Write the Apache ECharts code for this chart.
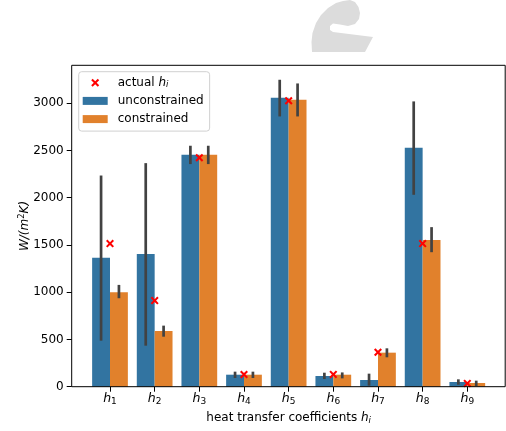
<!DOCTYPE html>
<html><head><meta charset="utf-8">
<script src="https://cdn.jsdelivr.net/npm/echarts@6/dist/echarts.min.js"></script>
<style>html,body{margin:0;padding:0;background:#fff}#c{width:506px;height:431px}</style>
</head><body><div id="c"></div>
<script>
var categories = ['1','2','3','4','5','6','7','8','9'];
var unconstrained = [1363, 1405, 2453, 127, 3057, 113, 71, 2527, 50];
var constrained   = [1000, 590, 2453, 127, 3036, 127, 360, 1553, 39];
var uncLow  = [487, 434, 2355, 92, 2859, 81, 11, 2030, 21];
var uncHigh = [2234, 2365, 2549, 159, 3247, 148, 138, 3018, 78];
var conLow  = [936, 529, 2355, 92, 2859, 88, 311, 1423, 7];
var conHigh = [1077, 646, 2549, 159, 3208, 151, 406, 1688, 64];
var actual  = [1514, 911, 2422, 129, 3025, 130, 364, 1514, 35];
var yTicks = [0, 500, 1000, 1500, 2000, 2500, 3000];

var FONT = 'DejaVu Sans';
var BLUE = '#3274a1', ORANGE = '#e1812c', ERR = '#424242';
var XPATH = 'path://M0,1.8L1.8,0L5,3.2L8.2,0L10,1.8L6.8,5L10,8.2L8.2,10L5,6.8L1.8,10L0,8.2L3.2,5Z';

var chart = echarts.init(document.getElementById('c'), null, {renderer: 'canvas'});

function errSeries(name, low, high, side) {
  return {
    type: 'custom', name: name, xAxisIndex: 1, yAxisIndex: 1, z: 5, silent: true,
    data: low.map(function (v, i) { return [i, v, high[i]]; }),
    renderItem: function (params, api) {
      var bw = api.size([1, 0])[0];
      var p1 = api.coord([api.value(0), api.value(1)]);
      var p2 = api.coord([api.value(0), api.value(2)]);
      var x = p1[0] + side * 0.2 * bw;
      return {type: 'line', shape: {x1: x, y1: p1[1], x2: x, y2: p2[1]},
              style: {stroke: ERR, lineWidth: 2.7, lineCap: 'butt'}};
    }
  };
}

var legendText = {
  'actual h_i': '{g|}{t|actual }{h|h}{s|i}',
  'unconstrained': '{g|}{t|unconstrained}',
  'constrained': '{g|}{t|constrained}'
};

function txt(extra) {
  var o = {fontFamily: FONT, fontSize: 12, color: '#000', lineHeight: 14, verticalAlign: 'middle'};
  for (var k in extra) o[k] = extra[k];
  return o;
}

chart.setOption({
  animation: false,
  textStyle: {fontFamily: FONT},
  graphic: [{
    type: 'polygon', z: 0,
    shape: {points: [[312,52],[311.5,42],[312.5,33],[316,23],[321,15],[328,8],[336,3],[343,1],[350,0],[355,2],[358.5,7],[360,13],[359,19],[355,24],[348,26],[340,24.5],[333,23.5],[330,26],[330,30],[333,32],[373,37],[365,52]]},
    style: {fill: '#dcdcdc'}
  }],
  grid: [
    {left: 71.7, right: 0.8, top: 65.3, bottom: 44.3, show: true, borderColor: '#000', borderWidth: 1, backgroundColor: 'transparent', z: 10, outerBoundsMode: 'none', containLabel: false},
    {left: 87.67, right: 16.37, top: 65.3, bottom: 44.3, outerBoundsMode: 'none', containLabel: false}
  ],
  xAxis: [
    {type: 'value', gridIndex: 0, min: 0, max: 1, show: false},
    {type: 'category', gridIndex: 1, data: categories,
     axisLine: {show: false},
     axisTick: {show: true, alignWithLabel: true, length: 5, lineStyle: {color: '#000', width: 1}},
     axisLabel: {margin: 5, color: '#000', interval: 0,
       formatter: function (v) { return '{h|h}{s|' + v + '}'; },
       rich: {h: txt({fontStyle: 'italic', fontSize: 12.5}),
              s: txt({fontSize: 9, padding: [6, 0, 0, 0]})}},
     name: '{t|heat transfer coefficients }{h|h}{s|i}',
     nameLocation: 'middle', nameGap: 24, nameMoveOverlap: false,
     nameTextStyle: {rich: {t: txt({}), h: txt({fontStyle: 'italic'}),
                            s: txt({fontStyle: 'italic', fontSize: 8.5, padding: [6, 0, 0, 0]})}}}
  ],
  yAxis: [
    {type: 'value', gridIndex: 0, min: 0, max: 3400, interval: 500,
     splitLine: {show: false}, axisLine: {show: false},
     axisTick: {show: true, length: 5, lineStyle: {color: '#000', width: 1}, customValues: yTicks},
     axisLabel: {margin: 8, color: '#000', fontSize: 12, fontFamily: FONT, customValues: yTicks,
                 formatter: function (v) { return v % 500 === 0 && v <= 3000 ? String(v) : ''; }},
     name: '{i|W/(m}{p|2}{i|K)}', nameLocation: 'middle', nameGap: 40, nameMoveOverlap: false,
     nameTextStyle: {rich: {i: txt({fontStyle: 'italic'}),
                            p: txt({fontSize: 8.5, padding: [0, 0, 6, 0]})}}},
    {type: 'value', gridIndex: 1, min: 0, max: 3400, show: false, splitLine: {show: false}}
  ],
  legend: {
    orient: 'vertical', left: 78.7, top: 71.7,
    padding: [4, 6, 5, 4], itemGap: 4.2, itemWidth: 25, itemHeight: 8,
    backgroundColor: '#fff', borderColor: '#d0d0d0', borderWidth: 1, borderRadius: 3,
    data: [{name: 'actual h_i', icon: XPATH, itemStyle: {color: 'red'}},
           {name: 'unconstrained', icon: 'rect'},
           {name: 'constrained', icon: 'rect'}],
    formatter: function (n) { return legendText[n]; },
    textStyle: {fontFamily: FONT, fontSize: 12, color: '#000', lineHeight: 14,
      rich: {g: {width: 5},
             t: txt({}),
             h: txt({fontStyle: 'italic'}),
             s: txt({fontStyle: 'italic', fontSize: 8.5, padding: [5, 0, 0, 0]})}}
  },
  series: [
    {type: 'bar', name: 'unconstrained', xAxisIndex: 1, yAxisIndex: 1, data: unconstrained,
     itemStyle: {color: BLUE}, barGap: '0%', barCategoryGap: '20%', z: 2},
    {type: 'bar', name: 'constrained', xAxisIndex: 1, yAxisIndex: 1, data: constrained,
     itemStyle: {color: ORANGE}, barGap: '0%', barCategoryGap: '20%', z: 2},
    errSeries('uncErr', uncLow, uncHigh, -1),
    errSeries('conErr', conLow, conHigh, 1),
    {type: 'scatter', name: 'actual h_i', xAxisIndex: 1, yAxisIndex: 1, z: 8,
     data: actual.map(function (v, i) { return [i, v]; }),
     symbol: XPATH, symbolSize: 8, itemStyle: {color: 'red', opacity: 1}}
  ]
});
</script></body></html>
